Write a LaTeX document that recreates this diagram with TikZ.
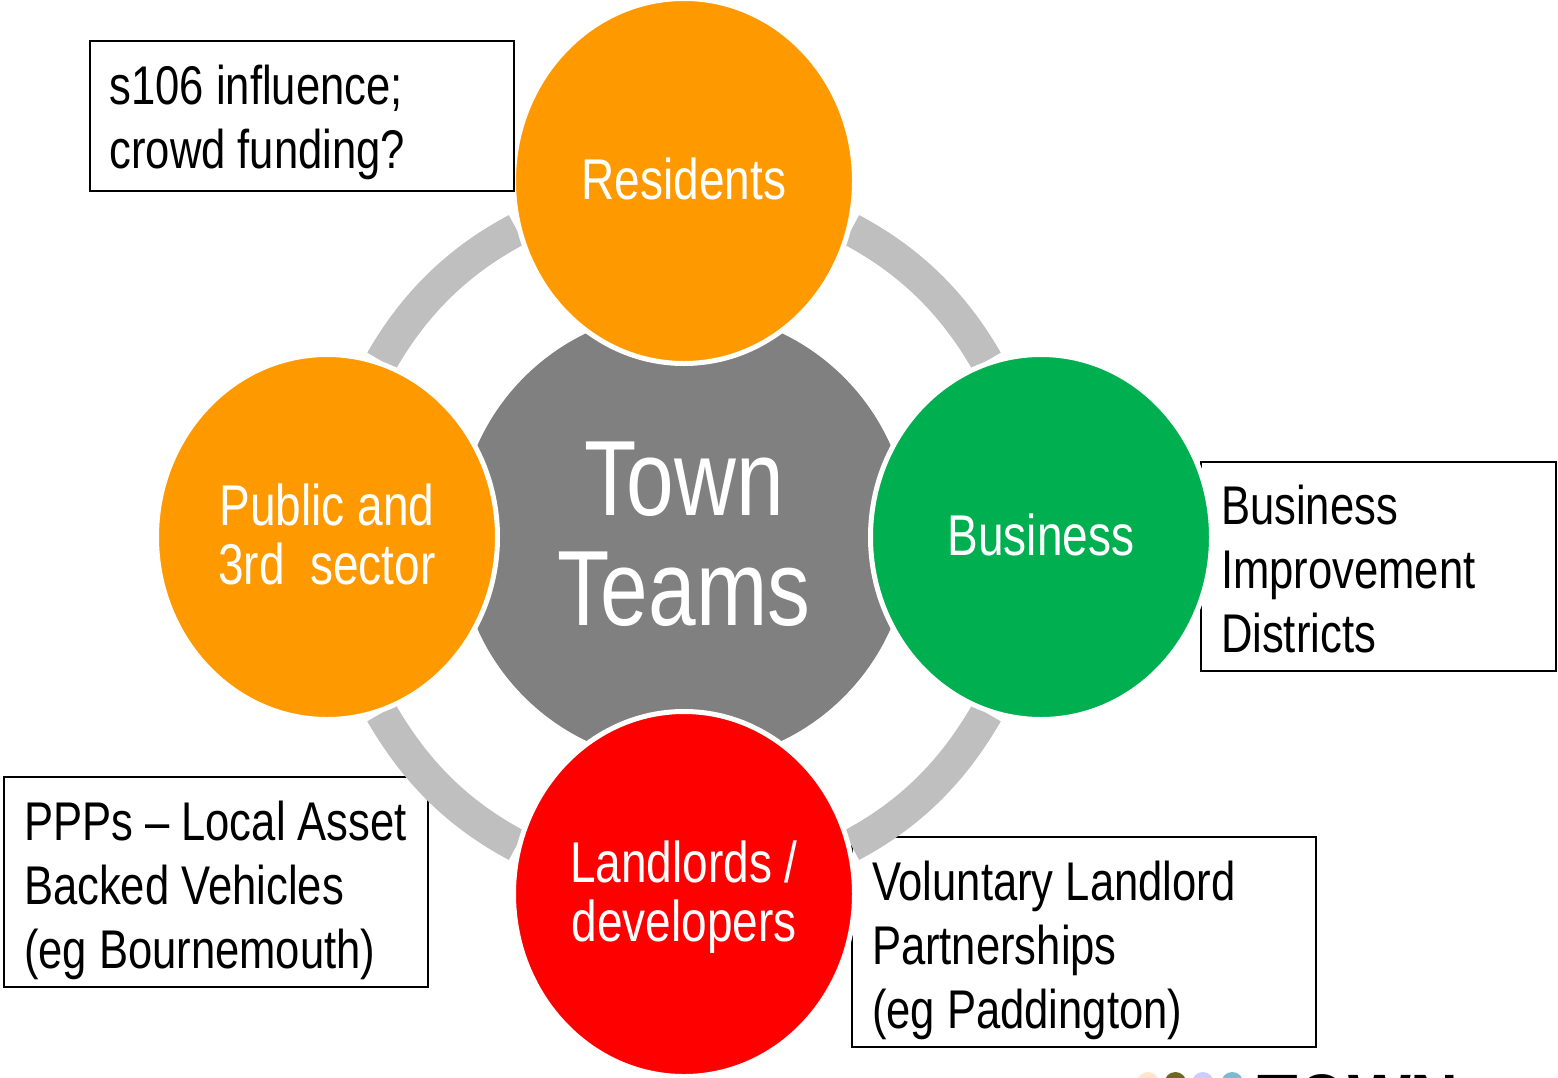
\documentclass[tikz,border=0pt]{standalone}
\usepackage{fontspec}
\setmainfont[FakeStretch=0.8]{Liberation Sans}
\usepackage{tikz}
\usetikzlibrary{positioning,shapes.geometric,backgrounds}

\definecolor{hubgray}{HTML}{808080}
\definecolor{linkgray}{HTML}{BFBFBF}
\definecolor{memberorange}{HTML}{FF9900}
\definecolor{membergreen}{HTML}{00B050}
\definecolor{memberred}{HTML}{FF0000}
\newcommand{\liftedtext}[2]{\raisebox{#1}[0pt][0pt]{\begin{tabular}{@{}c@{}}#2\end{tabular}}}
\newcommand{\dropline}[1]{\vrule width0pt height#1\relax}

\begin{document}
\begin{tikzpicture}[x=1pt, y=-1pt]
    \tikzset{
      hubnode/.style={circle,fill=hubgray,text=white,inner sep=0pt,outer sep=0pt,minimum size=452pt,font=\fontsize{107}{110}\selectfont},
      membernode/.style={ellipse,draw=white,line width=5pt,text=white,inner sep=0pt,outer sep=0pt,minimum width=341pt,minimum height=365pt,font=\fontsize{57.5}{56}\selectfont},
      notebox/.style={rectangle,draw=black,line width=2pt,fill=white,inner xsep=20pt,inner ysep=0pt,outer sep=0pt,align=flush left,font=\fontsize{54.5}{64}\selectfont},
      ringlink/.style={draw=linkgray,line width=33pt,looseness=0.92,shorten >=3pt,shorten <=3pt},
      logodot/.style={circle,inner sep=0pt,minimum size=22pt}
    }
    \useasboundingbox (0,0) rectangle (1558,1077);

    \node[hubnode](hub) at (684,537){\liftedtext{-17.5pt}{Town\\Teams}};
    \node[membernode,fill=memberorange,above=356pt of hub.center,anchor=center](residents){\liftedtext{-12pt}{Residents}};
    \node[membernode,fill=memberorange,left=357pt of hub.center,anchor=center](public){\liftedtext{-12pt}{Public and\\3rd~~sector}};
    \node[membernode,fill=membergreen,right=357pt of hub.center,anchor=center](business){\liftedtext{-12pt}{Business}};
    \node[membernode,fill=memberred,below=357pt of hub.center,anchor=center](landlords){\liftedtext{-12pt}{Landlords /\\developers}};
    \node[notebox,text width=384pt,minimum height=150pt,left=0pt of residents,yshift=65pt](s106){\dropline{52pt}s106 influence;\\crowd funding?};

    \begin{scope}[on background layer]
      \node[notebox,text width=315pt,minimum height=209pt,right=-10.5pt of business,yshift=-29.5pt](bid){\dropline{44pt}Business\\Improvement\\Districts};
      \node[notebox,text width=384pt,minimum height=210pt,left=85.5pt of landlords,yshift=12pt](ppp){\dropline{56pt}\mbox{PPPs -- Local Asset}\\Backed Vehicles\\(eg Bournemouth)};
      \node[notebox,text width=424pt,minimum height=210pt,right=-2.5pt of landlords,yshift=-48pt](vlp){\dropline{56pt}Voluntary Landlord\\Partnerships\\(eg Paddington)};

      \draw[ringlink](public.73) to[out=60,in=208] (residents.196);
      \draw[ringlink](residents.-16) to[out=-28,in=120] (business.107);
      \draw[ringlink](business.-107) to[out=-120,in=28] (landlords.16);
      \draw[ringlink](landlords.164) to[out=152,in=-60] (public.-73);
    \end{scope}

    \node[logodot,fill=orange!20] (dota) at (1148,1083){};
    \node[logodot,fill=olive!70!black,right=5pt of dota] (dotb){};
    \node[logodot,fill=blue!20,right=5pt of dotb] (dotc){};
    \node[logodot,fill=cyan!40!teal!60,right=7pt of dotc] (dotd){};
    \node[anchor=base west,inner sep=0pt,font=\fontsize{83}{83}\bfseries\selectfont] (logo) at (1257,1132){TOWN};
  \end{tikzpicture}
\end{document}
